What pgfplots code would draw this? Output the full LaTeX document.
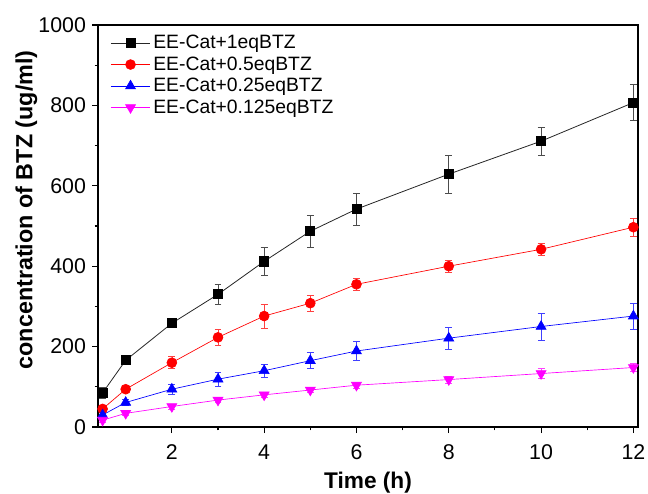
\documentclass[border=0pt]{standalone}
\usepackage{pgfplots}
\pgfplotsset{compat=1.18}
\usepackage{pgfplotstable}
\usepackage{fontspec}
\setmainfont{Liberation Sans}
\definecolor{mag}{RGB}{255,0,255}

\pgfplotstableread{
x y e
0.5 85 14
1 166 8
2 258 8
3 330 25
4 412 35
5 487 40
6 542 40
8 629 47
10 711 35
12 807 45
}\dA
\pgfplotstableread{
x y e
0.5 45 8
1 94 8
2 160 15
3 223 19
4 276 30
5 308 20
6 355 15
8 400 15
10 442 15
12 497 23
}\dB
\pgfplotstableread{
x y e
0.5 30 8
1 61 8
2 94 12
3 119 18
4 140 17
5 165 20
6 189 24
8 221 27
10 250 34
12 276 32
}\dC
\pgfplotstableread{
x y e
0.5 17 6
1 34 6
2 51 6
3 67 6
4 80 6
5 92 6
6 104 7
8 118 8
10 133 12
12 148 10
}\dD

\begin{document}
\begin{tikzpicture}
\begin{axis}[
  scale only axis,
  width=405pt, height=301.5pt,
  xmin=0.4, xmax=12.1,
  ymin=0, ymax=1000,
  xtick={2,4,6,8,10,12},
  ytick={0,200,400,600,800,1000},
  minor x tick num=1,
  minor y tick num=1,
  tick align=outside,
  xtick pos=bottom, ytick pos=left,
  major tick length=4.5pt,
  minor tick length=2.5pt,
  every tick/.style={black, line width=0.8pt},
  axis line style={line width=1.1pt},
  /pgf/number format/assume math mode=true,
  /pgf/number format/1000 sep={},
  tick label style={font=\fontsize{16}{19}\selectfont},
  xticklabel style={yshift=-5pt},
  yticklabel style={xshift=-1pt},
  xlabel={\textbf{Time (h)}},
  ylabel={\textbf{concentration of BTZ (ug/ml)}},
  xlabel style={font=\fontsize{17}{20}\selectfont, yshift=-2.5pt},
  ylabel style={font=\fontsize{17.5}{20}\selectfont, at={(ticklabel cs:0.54)}, yshift=-6pt},
  legend style={draw=none, fill=none, at={(0.02,0.985)}, anchor=north west,
    font=\fontsize{14.5}{17}\selectfont, row sep=0.5pt, inner sep=1pt,
    /tikz/every even column/.append style={column sep=0pt}},
  legend cell align=left,
  legend image code/.code={\draw[mark repeat=2,mark phase=2] plot coordinates {(0cm,0cm) (0.52cm,0cm) (1.04cm,0cm)};},
  error bars/error bar style={line width=0.5pt},
  error bars/error mark options={rotate=90, mark size=2.6pt, line width=0.5pt},
]
\coordinate (O) at (rel axis cs:0,0);
\addplot[black!85, line width=0.6pt, mark=square*, mark size=3.4pt, mark options={black, solid},
  error bars/.cd, y dir=both, y explicit, error bar style={black!70}, error mark options={black!70, rotate=90, mark size=2.6pt}]
  table[x=x, y=y, y error=e] {\dA};
\addlegendentry{EE-Cat+1eqBTZ}
\addplot[color=red, line width=0.5pt, mark=*, mark size=3.7pt, mark options={red, solid},
  error bars/.cd, y dir=both, y explicit, error bar style={red!75}, error mark options={red!75, rotate=90, mark size=2.6pt}]
  table[x=x, y=y, y error=e] {\dB};
\addlegendentry{EE-Cat+0.5eqBTZ}
\addplot[color=blue, line width=0.5pt, mark=triangle*, mark size=4.3pt, mark options={blue, solid},
  error bars/.cd, y dir=both, y explicit, error bar style={blue!75}, error mark options={blue!75, rotate=90, mark size=2.6pt}]
  table[x=x, y=y, y error=e] {\dC};
\addlegendentry{EE-Cat+0.25eqBTZ}
\addplot[color=mag, line width=0.5pt, mark=triangle*, mark size=4.3pt, mark options={mag, solid, rotate=180},
  error bars/.cd, y dir=both, y explicit, error bar style={mag!75}, error mark options={mag!75, rotate=90, mark size=2.6pt}]
  table[x=x, y=y, y error=e] {\dD};
\addlegendentry{EE-Cat+0.125eqBTZ}
\end{axis}
\pgfresetboundingbox
\path ([shift={(-73.5pt,-49.5pt)}]O) rectangle ([shift={(412.5pt,320.25pt)}]O);
\end{tikzpicture}
\end{document}
